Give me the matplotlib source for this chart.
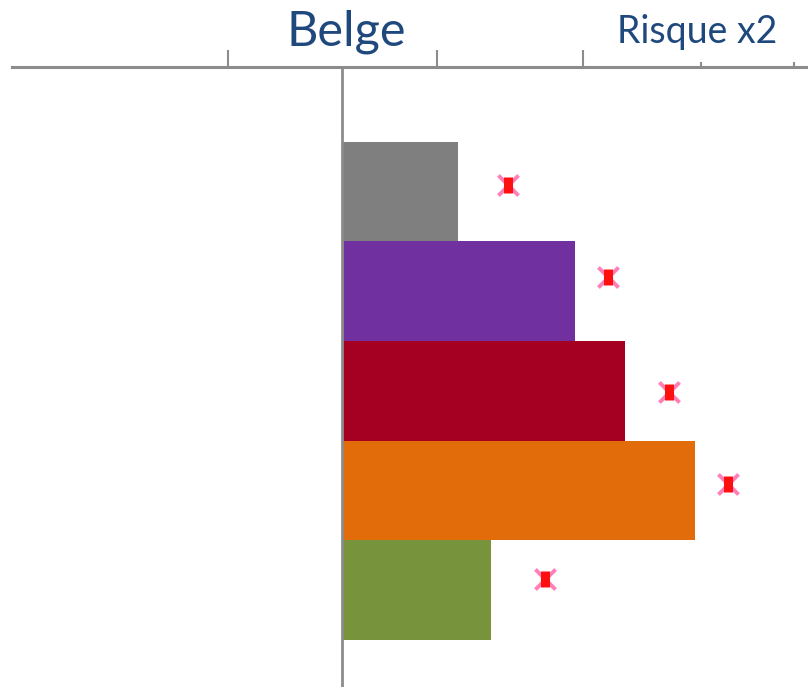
import matplotlib
matplotlib.use("Agg")
import matplotlib.pyplot as plt
from matplotlib.ticker import FixedLocator, NullFormatter

plt.rcParams["font.family"] = ["Lato", "DejaVu Sans"]

# values (log axis, bars start at the baseline)
baseline = 1.247
positions = [0, 1, 2, 3, 4]
bar_values = [1.56, 1.96, 2.16, 2.475, 1.665]
bar_colors = ["#7f7f7f", "#7030a0", "#a50021", "#e36c0a", "#77933c"]
star_values = [1.72, 2.09, 2.35, 2.635, 1.85]
star_positions = [-0.07, 0.86, 2.01, 2.93, 3.89]
major_ticks = [1, 1.5, 1.99]
minor_ticks = [2.5, 3]

axis_color = "#8c8c8c"
title_color = "#1f497d"

fig = plt.figure(figsize=(8.08, 6.87), dpi=100)
ax = fig.add_axes([12 / 808, 0, 796 / 808, 620 / 687])

ax.barh(positions, [v - baseline for v in bar_values], left=baseline,
        height=1.0, color=bar_colors, zorder=2)

ax.set_xscale("log")
ax.set_xlim(0.657, 3.08)
ax.set_ylim(4.97, -1.25)

# the stars: soft legs first, tall red body on top
ax.scatter(star_values, star_positions, marker="x", s=210, color="#ff80b8",
           linewidths=2.8, zorder=3)
ax.scatter(star_values, star_positions, marker="|", s=130, color="#ff1010",
           linewidths=6.5, zorder=4)

ax.axvline(baseline, color=axis_color, linewidth=2, zorder=5)

for side in ["left", "right", "bottom"]:
    ax.spines[side].set_visible(False)
ax.spines["top"].set_color(axis_color)
ax.spines["top"].set_linewidth(2.2)

ax.set_yticks([])
ax.xaxis.set_ticks_position("top")
ax.xaxis.set_major_locator(FixedLocator(major_ticks))
ax.xaxis.set_minor_locator(FixedLocator(minor_ticks))
ax.xaxis.set_major_formatter(NullFormatter())
ax.xaxis.set_minor_formatter(NullFormatter())
ax.tick_params(axis="x", which="major", direction="out", length=12, width=1.5, color=axis_color)
ax.tick_params(axis="x", which="minor", direction="out", length=3.5, width=1.5, color=axis_color)

fig.text(346 / 808, 1 - 32 / 687, "Belge", fontsize=35, color=title_color, ha="center", va="center")
fig.text(697 / 808, 1 - 32 / 687, "Risque x2", fontsize=27, color=title_color, ha="center", va="center")

fig.savefig("out.png", dpi=100)
